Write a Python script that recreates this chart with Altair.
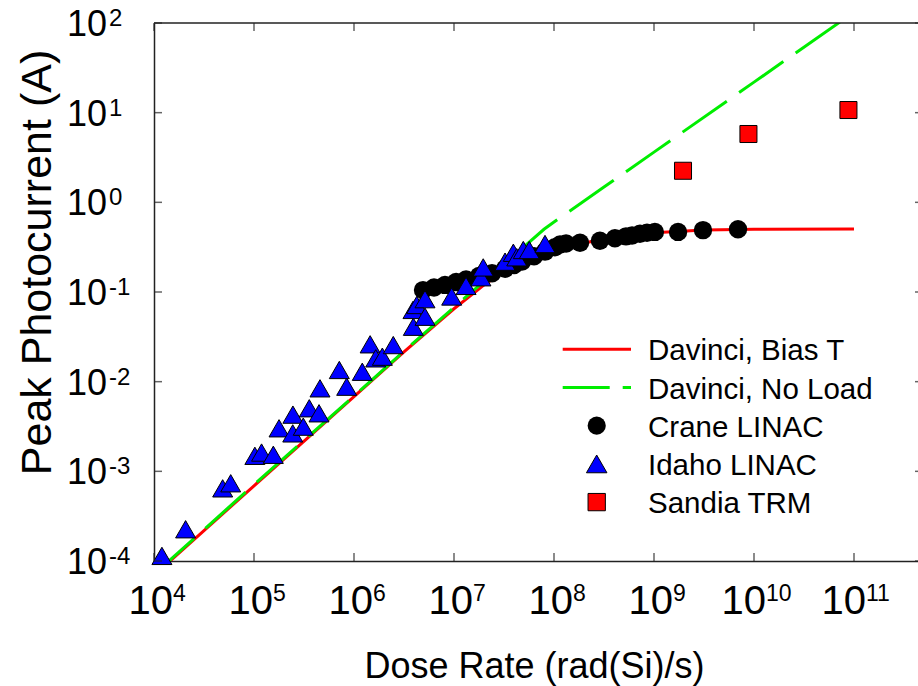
import altair as alt
import pandas as pd

# ---------------- data ----------------
crane_x = [4.90e6, 6.31e6, 8.13e6, 1.05e7, 1.32e7, 1.78e7, 2.40e7, 3.24e7, 3.98e7,
           4.79e7, 6.31e7, 8.13e7, 1.02e8, 1.15e8, 1.32e8, 1.82e8, 2.88e8, 4.07e8,
           5.25e8, 6.03e8, 7.24e8, 8.51e8, 1.02e9, 1.74e9, 3.09e9, 6.92e9]
crane_y = [0.105, 0.112, 0.120, 0.129, 0.138, 0.151, 0.162, 0.182, 0.200,
           0.219, 0.251, 0.282, 0.316, 0.339, 0.347, 0.355, 0.372, 0.398,
           0.417, 0.427, 0.447, 0.457, 0.468, 0.468, 0.490, 0.501]

idaho_x = [1.20e4, 2.07e4, 4.86e4, 5.85e4, 1.02e5, 1.19e5, 1.56e5, 1.78e5, 2.44e5,
           2.45e5, 3.11e5, 3.57e5, 4.47e5, 4.57e5, 7.13e5, 8.45e5, 1.21e6, 1.45e6,
           1.65e6, 1.92e6, 2.47e6, 3.92e6, 3.89e6, 4.24e6, 5.13e6, 5.13e6, 9.48e6,
           1.32e7, 1.86e7, 1.96e7, 3.24e7, 3.92e7, 4.24e7, 4.93e7, 5.66e7, 8.13e7]
idaho_y = [1.14e-4, 2.26e-4, 6.46e-4, 7.36e-4, 1.49e-3, 1.62e-3, 1.53e-3, 3.02e-3, 2.65e-3,
           4.29e-3, 3.15e-3, 5.05e-3, 4.44e-3, 8.43e-3, 1.35e-2, 8.79e-3, 1.29e-2, 2.61e-2,
           1.82e-2, 1.90e-2, 2.56e-2, 4.10e-2, 6.31e-2, 7.16e-2, 5.30e-2, 8.32e-2, 8.91e-2,
           0.117, 0.146, 0.188, 0.218, 0.274, 0.244, 0.294, 0.294, 0.343]

sandia_x = [1.95e9, 8.8e9, 8.8e10]
sandia_y = [2.25, 5.78, 10.7]

bias_x = [1e4, 1e5, 1e6, 3.16e6, 1e7, 2.0e7, 3.16e7, 5.62e7, 1e8, 3.16e8, 1e9, 3.16e9, 1e10, 1e11]
bias_y = [6.9e-5, 6.9e-4, 6.8e-3, 2.15e-2, 6.5e-2, 0.120, 0.170, 0.234, 0.302, 0.389, 0.457, 0.490, 0.501, 0.505]

noload_x = [1e4, 1e5, 1e6, 3.16e6, 1e7, 3.16e7, 7.94e7, 1e8, 3.16e8, 1e9, 1e10, 1e11]
noload_y = [7.1e-5, 7.1e-4, 6.92e-3, 2.19e-2, 6.76e-2, 0.204, 0.501, 0.603, 1.48, 3.63, 21.9, 132]

x_tick_values = [1e4, 1e5, 1e6, 1e7, 1e8, 1e9, 1e10, 1e11]
x_tick_exps = ["4", "5", "6", "7", "8", "9", "10", "11"]
y_tick_values = [1e-4, 1e-3, 1e-2, 1e-1, 1e0, 1e1, 1e2]
y_tick_exps = ["-4", "-3", "-2", "-1", "0", "1", "2"]

legend_labels = ["Davinci, Bias T", "Davinci, No Load", "Crane LINAC", "Idaho LINAC", "Sandia TRM"]

# ---------------- layout / style ----------------
FONT = "Liberation Sans"
W, H = 764, 538
BORDER = "#222222"
RED = "#ff0000"
GREEN = "#00ee00"
BLUE = "#0000ff"

xs = alt.Scale(type="log", domain=[1e4, 4.365e11], nice=False)
ys = alt.Scale(type="log", domain=[1e-4, 1e2], nice=False)

x_axis = alt.Axis(title="Dose Rate (rad(Si)/s)", labels=False, ticks=False, grid=False,
                  domain=True, domainColor=BORDER, domainWidth=1.5, titleFont=FONT, titleFontSize=36,
                  titleFontWeight="normal", titleColor="black", titleX=380, titleY=116,
                  titleAlign="center", titleBaseline="alphabetic")
y_axis = alt.Axis(title="Peak Photocurrent (A)", labels=False, ticks=False, grid=False,
                  domain=True, domainColor=BORDER, domainWidth=1.5, titleFont=FONT, titleFontSize=43,
                  titleFontWeight="normal", titleColor="black", titleX=-104, titleY=239,
                  titleAlign="center", titleBaseline="alphabetic", titleAngle=270)


def X(field):
    return alt.X(field, scale=xs, axis=x_axis)


def Y(field):
    return alt.Y(field, scale=ys, axis=y_axis)


bias_df = pd.DataFrame({"x": bias_x, "y": bias_y})
noload_df = pd.DataFrame({"x": noload_x, "y": noload_y})
crane_df = pd.DataFrame({"x": crane_x, "y": crane_y})
idaho_df = pd.DataFrame({"x": idaho_x, "y": idaho_y})
sandia_df = pd.DataFrame({"x": sandia_x, "y": sandia_y})

bias = alt.Chart(bias_df).mark_line(clip=True, color=RED, strokeWidth=3).encode(
    x=X("x:Q"), y=Y("y:Q"), order=alt.Order("x:Q"))
noload = alt.Chart(noload_df).mark_line(clip=True, color=GREEN, strokeWidth=3, strokeDash=[54, 15]).encode(
    x=X("x:Q"), y=Y("y:Q"), order=alt.Order("x:Q"))
crane = alt.Chart(crane_df).mark_point(shape="circle", filled=True, color="black", size=340, opacity=1).encode(
    x=X("x:Q"), y=Y("y:Q"))
idaho = alt.Chart(idaho_df).mark_point(shape="triangle-up", filled=True, fill=BLUE, stroke="black",
                                       strokeWidth=1, size=400, opacity=1).encode(x=X("x:Q"), y=Y("y:Q"))
sandia = alt.Chart(sandia_df).mark_point(shape="square", filled=True, fill=RED, stroke="black",
                                         strokeWidth=1, size=290, opacity=1).encode(x=X("x:Q"), y=Y("y:Q"))

# ---------------- frame ticks (inward) ----------------
xt_df = pd.DataFrame({"x": x_tick_values, "e": x_tick_exps})
yt_df = pd.DataFrame({"y": y_tick_values, "e": y_tick_exps})

tick_layers = []
for yv in [H - 4, 4]:
    tick_layers.append(alt.Chart(xt_df).mark_tick(orient="vertical", size=8, thickness=1.5, color=BORDER)
                       .encode(x=X("x:Q"), y=alt.value(yv)))
for xv in [4, W + 1]:
    tick_layers.append(alt.Chart(yt_df).mark_tick(orient="horizontal", size=8, thickness=1.5, color=BORDER)
                       .encode(y=Y("y:Q"), x=alt.value(xv)))

one = pd.DataFrame({"a": [0]})
top_border = alt.Chart(one).mark_rule(color=BORDER, strokeWidth=1.5).encode(
    x=alt.value(0), x2=alt.value(W), y=alt.value(0))

# ---------------- tick labels with superscripts ----------------
label_layers = []
XB, XE = 40, 23
for n, dx in [(1, 19), (2, 12)]:
    label_layers.append(
        alt.Chart(xt_df).transform_filter(f"length(datum.e) == {n}")
        .mark_text(text="10", align="right", baseline="alphabetic", font=FONT, fontSize=XB, dx=dx, color="black")
        .encode(x=X("x:Q"), y=alt.value(591)))
    label_layers.append(
        alt.Chart(xt_df).transform_filter(f"length(datum.e) == {n}")
        .mark_text(align="left", baseline="alphabetic", font=FONT, fontSize=XE, dx=dx, color="black")
        .encode(x=X("x:Q"), y=alt.value(578), text="e:N"))

YB, YE = 36, 24
label_layers.append(
    alt.Chart(yt_df).mark_text(text="10", align="left", baseline="alphabetic", font=FONT,
                               fontSize=YB, dy=13, color="black")
    .encode(y=Y("y:Q"), x=alt.value(-87)))
label_layers.append(
    alt.Chart(yt_df).mark_text(align="left", baseline="alphabetic", font=FONT, fontSize=YE, dy=3, color="black")
    .encode(y=Y("y:Q"), x=alt.value(-45), text="e:N"))

# ---------------- legend ----------------
LX_TEXT, LX_SYM, LY0, LDY = 494, 442.7, 326.3, 38.2
legend_layers = []
for i, lab in enumerate(legend_labels):
    ry = LY0 + LDY * i
    legend_layers.append(
        alt.Chart(one).mark_text(text=lab, align="left", baseline="alphabetic", font=FONT,
                                 fontSize=29.5, color="black")
        .encode(x=alt.value(LX_TEXT), y=alt.value(ry + 11)))
legend_layers.append(alt.Chart(one).mark_rule(color=RED, strokeWidth=3).encode(
    x=alt.value(408.7), x2=alt.value(477), y=alt.value(LY0)))
legend_layers.append(alt.Chart(one).mark_rule(color=GREEN, strokeWidth=3, strokeDash=[47, 13]).encode(
    x=alt.value(408.7), x2=alt.value(477), y=alt.value(LY0 + LDY)))
legend_layers.append(alt.Chart(one).mark_point(shape="circle", filled=True, color="black", size=330, opacity=1)
                     .encode(x=alt.value(LX_SYM), y=alt.value(LY0 + 2 * LDY)))
legend_layers.append(alt.Chart(one).mark_point(shape="triangle-up", filled=True, fill=BLUE, stroke="black",
                                               strokeWidth=1, size=420, opacity=1)
                     .encode(x=alt.value(LX_SYM), y=alt.value(LY0 + 3 * LDY)))
legend_layers.append(alt.Chart(one).mark_point(shape="square", filled=True, fill=RED, stroke="black",
                                               strokeWidth=1, size=300, opacity=1)
                     .encode(x=alt.value(LX_SYM), y=alt.value(LY0 + 4 * LDY)))

chart = alt.layer(
    bias, noload, crane, idaho, sandia, top_border, *tick_layers, *label_layers, *legend_layers
).properties(
    width=W, height=H,
    autosize=alt.AutoSizeParams(type="none"),
    padding={"left": 154, "top": 23, "right": 0, "bottom": 125},
    background="white",
).configure_view(stroke=None)

chart.save("out.html", embed_options={"renderer": "svg", "actions": False})
